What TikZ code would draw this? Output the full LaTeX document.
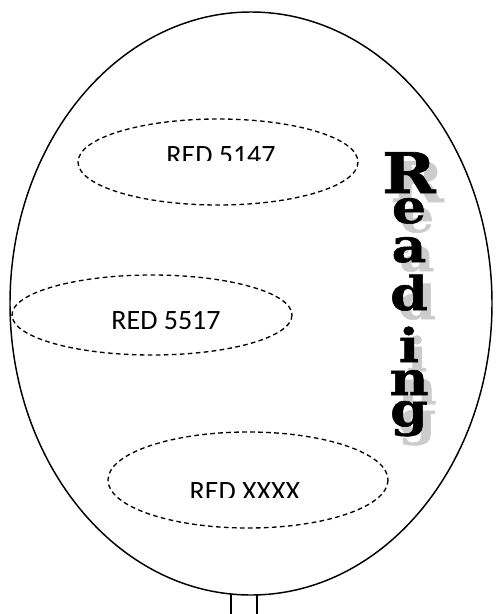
\documentclass[tikz,border=0pt]{standalone}
\usepackage{fontspec}
\setmainfont{Carlito}
\newfontfamily\readfont[FakeStretch=1.15,BoldFeatures={FakeStretch=1.15,FakeBold=1.2}]{DejaVu Serif}

\begin{document}
\begin{tikzpicture}[x=0.75pt,y=-0.75pt,
    bubble/.style={dash pattern=on 3.5pt off 2.5pt,line width=1pt},
    tagtext/.style={font=\fontsize{21}{25}\selectfont,anchor=base},
    letter/.style={font=\readfont\bfseries\fontsize{35}{40}\selectfont,anchor=base,inner sep=0pt},
    shade/.style={letter,text=black!20}]
  \useasboundingbox (0,0) rectangle (496,614);
  % balloon and stem
  \draw[line width=1.1pt] (251,303.5) ellipse [x radius=241,y radius=291.5];
  \draw[line width=1.1pt] (231,614) -- (231,594) (257,594) -- (257,614);
  % dashed bubbles
  \draw[bubble] (218,162) ellipse [x radius=140,y radius=43];
  \draw[bubble] (152,315) ellipse [x radius=140,y radius=40];
  \draw[bubble] (248,480) ellipse [x radius=140,y radius=48];
  \begin{scope}
    \clip (0,0) rectangle (496,160);
    \node[tagtext] (first) at (221,164) {RED 5147};
  \end{scope}
  \node[tagtext] (second) at (166,329) {RED 5517};
  \begin{scope}
    \clip (0,0) rectangle (496,497);
    \node[tagtext] (third) at (245,500) {RED XXXX};
  \end{scope}
  % vertical word with shadow
  \node[shade,font=\readfont\bfseries\fontsize{42}{46}\selectfont] (rs) at (417,202) {R};
  \node[letter,font=\readfont\bfseries\fontsize{42}{46}\selectfont] (r) at (409,193) {R};
  \foreach \ch/\b [count=\k] in {e/223,a/262,d/310,i/362,n/395,g/426} {
    \node[shade] (s\k) at (417,\b+9) {\ch};
    \node[letter] (l\k) at (409,\b) {\ch};
  }
\end{tikzpicture}
\end{document}
